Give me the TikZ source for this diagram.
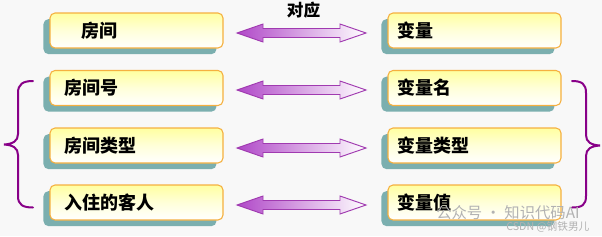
\documentclass[tikz,border=0pt]{standalone}
\usepackage{fontspec}
\newfontfamily\cjk{Noto Sans CJK SC}
\usetikzlibrary{shadows,calc}
\definecolor{bgc}{HTML}{F8F8F8}
\definecolor{shadowc}{HTML}{7BAFAF}
\definecolor{borderc}{HTML}{F5B040}
\definecolor{topc}{HTML}{FFFFA0}
\definecolor{botc}{HTML}{FFFFFF}
\definecolor{bracec}{HTML}{880088}
\definecolor{arrowc}{HTML}{A03AB0}
\definecolor{arrowfill}{HTML}{B048C8}
\tikzset{
  box/.style={draw=borderc, line width=0.8pt, rounded corners=3.75pt,
    top color=topc, bottom color=botc, middle color=topc!40!white,
    minimum width=129.75pt, minimum height=26.25pt,
    inner sep=0pt,
    general shadow={fill=shadowc, shadow xshift=-4.9pt, shadow yshift=-4.6pt}},
  lbl/.style={anchor=west, inner sep=0pt, font=\cjk\bfseries\fontsize{13.5pt}{15pt}\selectfont},
  brace/.style={draw=bracec, line width=1.5pt, line cap=round},
  blockarrow/.style={draw=arrowc, line width=0.7pt, left color=arrowfill, right color=white, line join=miter},
  wm/.style={inner sep=0pt, anchor=west, text=black!30}
}
\newcommand\convarrow[1]{%
  \path[blockarrow] (237,#1) -- (263,#1-9) -- (263,#1-4.5) -- (340,#1-4.5) -- (340,#1-9)
    -- (366,#1) -- (340,#1+9) -- (340,#1+4.5) -- (263,#1+4.5) -- (263,#1+9) -- cycle;}
\begin{document}
\begin{tikzpicture}[x=0.75pt,y=-0.75pt]
\fill[bgc] (0,0) rectangle (602,236);
\useasboundingbox (0,0) rectangle (602,236);

% left boxes
\node[box] (l1) at (136.5,30.5) {};
\node[box] (l2) at (136.5,88) {};
\node[box] (l3) at (136.5,145.5) {};
\node[box] (l4) at (136.5,202.5) {};
% right boxes
\node[box] (r1) at (474.5,30.5) {};
\node[box] (r2) at (474.5,88) {};
\node[box] (r3) at (474.5,145.5) {};
\node[box] (r4) at (474.5,202.5) {};

% labels
\node[lbl] (tl1) at (81,30.5) {房间};
\node[lbl] (tl2) at (64,88) {房间号};
\node[lbl] (tl3) at (64,145.5) {房间类型};
\node[lbl] (tl4) at (64,202.5) {入住的客人};
\node[lbl] (tr1) at (397,30.5) {变量};
\node[lbl] (tr2) at (397,88) {变量名};
\node[lbl] (tr3) at (397,145.5) {变量类型};
\node[lbl] (tr4) at (397,202.5) {变量值};

% arrows
\convarrow{33}
\convarrow{90}
\convarrow{148}
\convarrow{205}
\node[inner sep=0pt, font=\cjk\bfseries\fontsize{12.5pt}{14pt}\selectfont] (dy) at (303.5,10) {对应};

% braces
\draw[brace] (33,81) .. controls (23,81) and (18,84) .. (18,93) -- (18,134)
  .. controls (18,141) and (13,144) .. (4,144.5)
  .. controls (13,145) and (18,148) .. (18,155) -- (18,196)
  .. controls (18,205) and (23,207.5) .. (33,207.5);
\draw[brace] (572,81) .. controls (582,81) and (586,84) .. (586,93) -- (586,135)
  .. controls (586,142) and (591,145) .. (600,145.5)
  .. controls (591,146) and (586,149) .. (586,156) -- (586,196)
  .. controls (586,205) and (582,207.5) .. (572,207.5);

% watermark
\node[wm, font=\cjk\fontsize{11.5pt}{13pt}\selectfont] (wm1) at (436,213) {公众号 · 知识代码AI};
\node[wm, font=\cjk\fontsize{8pt}{9pt}\selectfont] (wm2) at (506,227) {CSDN @钢铁男儿};
\end{tikzpicture}
\end{document}
